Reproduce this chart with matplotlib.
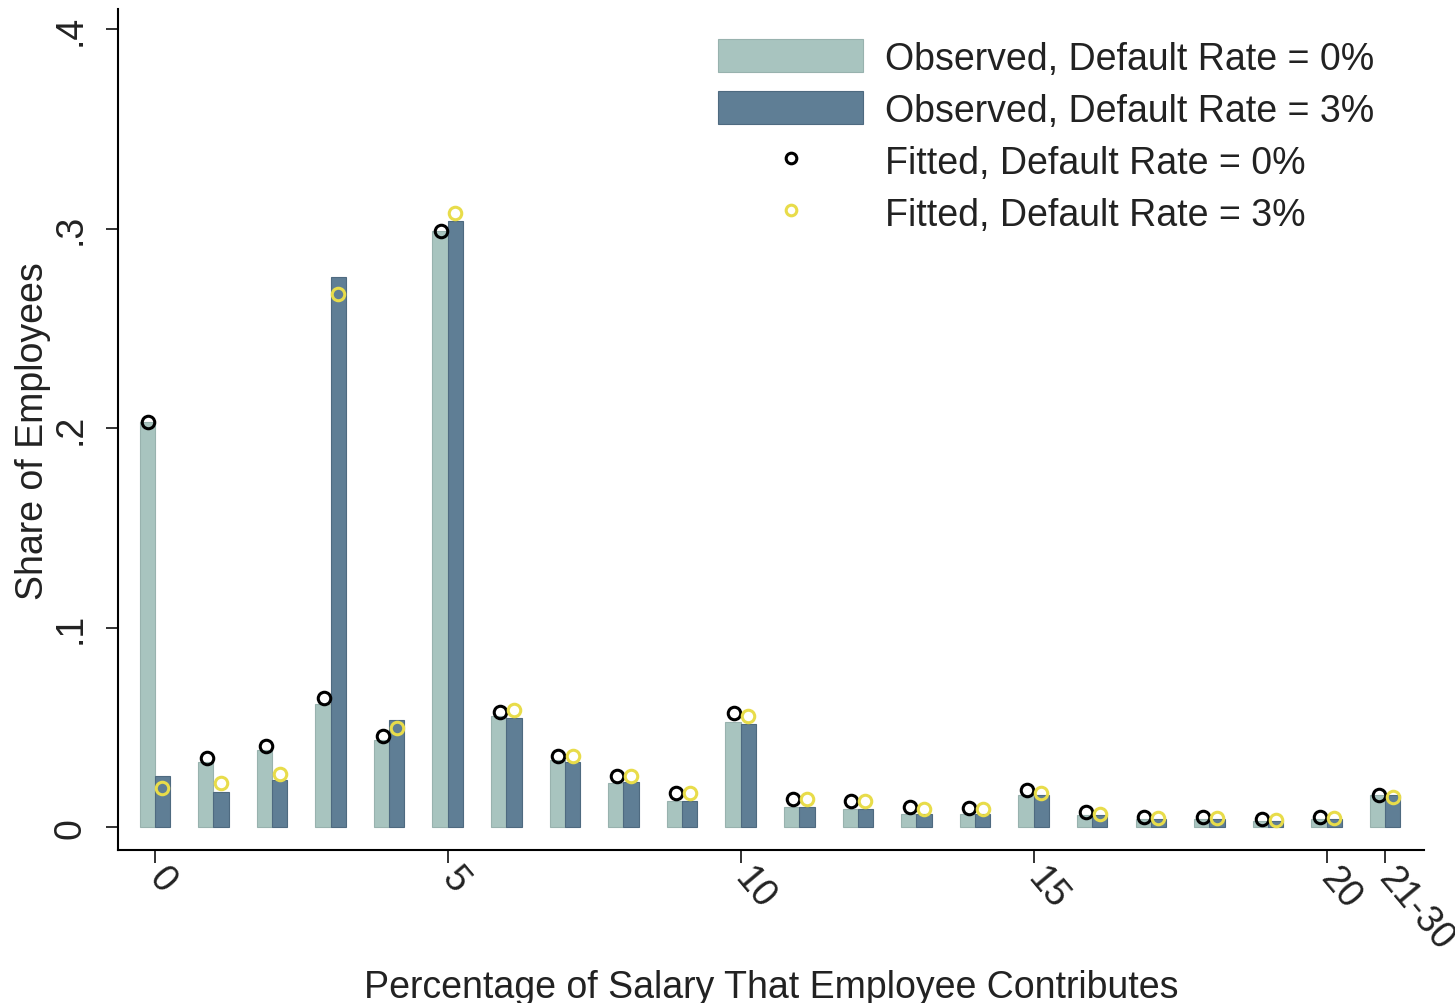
import matplotlib
matplotlib.use("Agg")
import matplotlib.pyplot as plt
import numpy as np

plt.rcParams['font.family'] = ['Liberation Sans', 'DejaVu Sans']

# contribution rate categories (21 = "21-30")
rates = list(range(22))
xtick_pos = [0, 5, 10, 15, 20, 21]
xtick_labels = ['0', '5', '10', '15', '20', '21-30']

obs_0 = [0.203, 0.033, 0.039, 0.062, 0.044, 0.299, 0.056, 0.034, 0.0225, 0.013,
         0.053, 0.010, 0.009, 0.0065, 0.0065, 0.0165, 0.006, 0.004, 0.004, 0.003,
         0.004, 0.016]
obs_3 = [0.026, 0.018, 0.024, 0.276, 0.054, 0.304, 0.055, 0.033, 0.023, 0.013,
         0.052, 0.010, 0.009, 0.0065, 0.0065, 0.016, 0.006, 0.004, 0.004, 0.003,
         0.004, 0.016]
fit_0 = [0.203, 0.035, 0.041, 0.065, 0.046, 0.299, 0.058, 0.036, 0.026, 0.0175,
         0.0575, 0.014, 0.013, 0.010, 0.0095, 0.019, 0.0075, 0.005, 0.005, 0.004,
         0.005, 0.0165]
fit_3 = [0.020, 0.0225, 0.027, 0.267, 0.050, 0.308, 0.059, 0.036, 0.026, 0.0175,
         0.056, 0.014, 0.013, 0.009, 0.009, 0.0175, 0.0065, 0.0045, 0.0045, 0.0035,
         0.0045, 0.015]

light = '#a8c4bf'
dark = '#5f7e95'
txt = '#222222'
fs = 27

x = np.array(rates)
w = 0.26

fig = plt.figure(figsize=(14.55, 10.04), dpi=100)
ax = fig.add_axes([0.081, 0.152, 0.898, 0.838])

b0 = ax.bar(x - w / 2, obs_0, width=w, color=light, edgecolor='#98b2ae', linewidth=0.8)
b3 = ax.bar(x + w / 2, obs_3, width=w, color=dark, edgecolor='#4e6a80', linewidth=0.8)
m0, = ax.plot(x - w / 2 + 0.02, fit_0, 'o', ms=9, mfc='none', mec='black', mew=2.2)
m3, = ax.plot(x + w / 2, fit_3, 'o', ms=9, mfc='none', mec='#e8dc4a', mew=2.2)

ax.set_xlim(-0.63, 21.67)
ax.set_ylim(-0.0115, 0.41)

ax.spines['top'].set_visible(False)
ax.spines['right'].set_visible(False)
ax.spines['left'].set_linewidth(1.5)
ax.spines['bottom'].set_linewidth(1.5)

ax.set_yticks([0, 0.1, 0.2, 0.3, 0.4])
ax.set_yticklabels(['0', '.1', '.2', '.3', '.4'], rotation=90, va='center')
ax.set_xticks(xtick_pos)
ax.set_xticklabels(xtick_labels, rotation=-50, ha='left', va='center',
                   rotation_mode='anchor')
ax.tick_params(axis='both', labelsize=fs, length=9, width=1.3, colors=txt)
ax.tick_params(axis='y', pad=12)
ax.tick_params(axis='x', pad=6)

ax.set_xlabel('Percentage of Salary That Employee Contributes', fontsize=fs, color=txt)
ax.xaxis.set_label_coords(0.5, -0.141)
ax.set_ylabel('Share of Employees', fontsize=fs, color=txt)
ax.yaxis.set_label_coords(-0.051, 0.5)

fig.legend([b0, b3, m0, m3],
           ['Observed, Default Rate = 0%', 'Observed, Default Rate = 3%',
            'Fitted, Default Rate = 0%', 'Fitted, Default Rate = 3%'],
           loc='upper left', bbox_to_anchor=(718 / 1455, 1 - 40 / 1004),
           frameon=False, fontsize=fs, labelcolor=txt,
           handlelength=3.87, handleheight=0.99, labelspacing=0.39,
           handletextpad=0.59, borderpad=0, borderaxespad=0, markerscale=0.85)

fig.savefig('out.png', dpi=100)
